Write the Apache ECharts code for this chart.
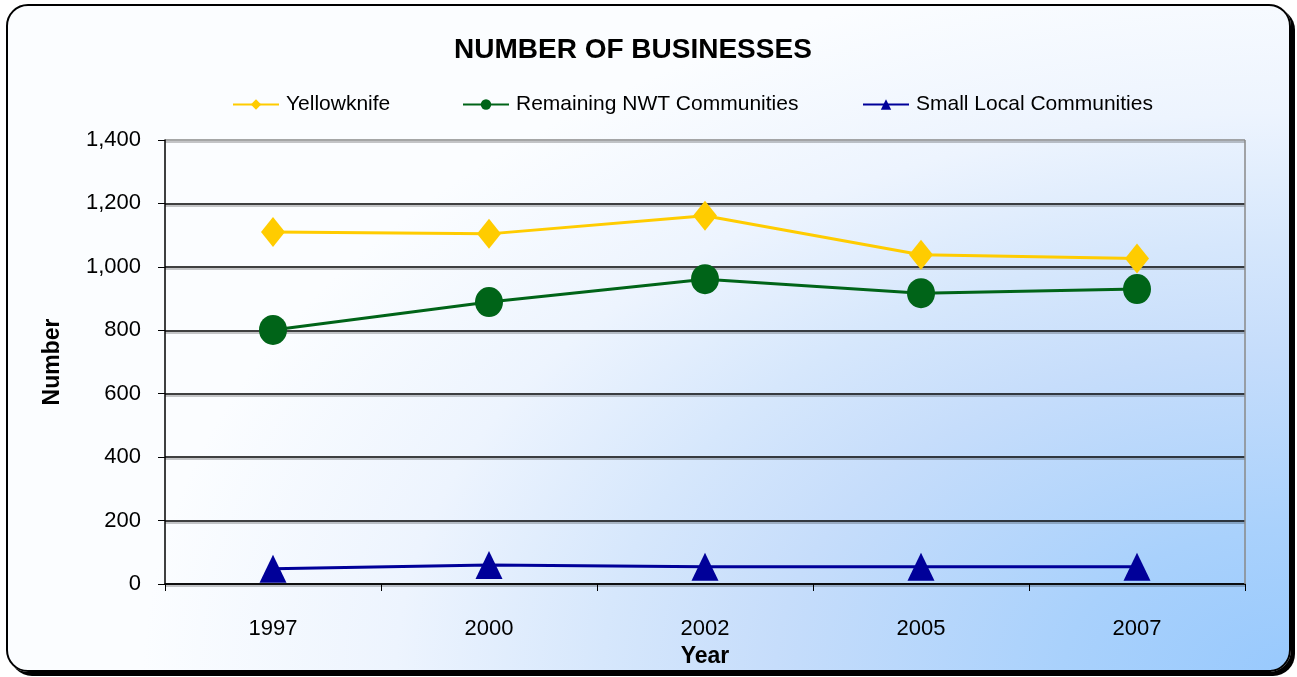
<!DOCTYPE html>
<html>
<head>
<meta charset="utf-8">
<script src="https://cdn.jsdelivr.net/npm/echarts@6/dist/echarts.min.js"></script>
<style>
html, body { margin: 0; padding: 0; background: #fff; }
#wrap { position: relative; width: 1297px; height: 677px; }
#frame {
    position: absolute; left: 6px; top: 4px; width: 1281px; height: 664px;
    border: 2px solid #000; border-radius: 22px;
    box-shadow: 4px 4px 0 #000;
    background: radial-gradient(ellipse 1150px 720px at 1285px 668px,
        #98c9fd 0%, #a9d1fc 20%, #c6ddfb 45%, #d6e7fc 60%, #edf4fe 78%, #fbfdff 100%);
}
#main { position: absolute; left: 0; top: 0; width: 1297px; height: 677px; }
</style>
</head>
<body>
<div id="wrap">
<div id="frame"></div>
<div id="main"></div>
</div>
<script>
var years = ['1997', '2000', '2002', '2005', '2007'];
var yellowknife = [1110, 1104, 1161, 1038, 1026];
var remainingNWT = [801, 889, 961, 917, 930];
var smallLocal = [48, 60, 54, 54, 54];
var seriesNames = ['Yellowknife', 'Remaining NWT Communities', 'Small Local Communities'];
var legendLeft = [232, 462, 862];

var myChart = echarts.init(document.getElementById('main'));
var font = 'Liberation Sans, Arial, sans-serif';

var legends = seriesNames.map(function (name, i) {
    return {
        top: 94,
        left: legendLeft[i],
        padding: 0,
        itemGap: 0,
        itemWidth: 46,
        itemHeight: 13,
        data: [name],
        textStyle: { fontFamily: font, fontSize: 21, color: '#000', padding: [0, 0, 0, 2] }
    };
});

option = {
    animation: false,
    title: {
        text: 'NUMBER OF BUSINESSES',
        left: 454,
        top: 36,
        padding: 0,
        textStyle: { fontFamily: font, fontSize: 28, fontWeight: 'bold', color: '#000' }
    },
    legend: legends,
    grid: { left: 165, right: 52, top: 140, bottom: 93 },
    xAxis: {
        type: 'category',
        data: years,
        name: 'Year',
        nameLocation: 'middle',
        nameGap: 57,
        nameTextStyle: { fontFamily: font, fontSize: 23, fontWeight: 'bold', color: '#000' },
        axisLine: { lineStyle: { color: '#000', width: 1.5 } },
        axisTick: { show: true, length: 7, lineStyle: { color: '#000' } },
        axisLabel: { fontFamily: font, fontSize: 22, color: '#000', margin: 34 }
    },
    yAxis: {
        type: 'value',
        min: 0,
        max: 1400,
        interval: 200,
        name: 'Number',
        nameLocation: 'middle',
        nameGap: 101,
        nameTextStyle: { fontFamily: font, fontSize: 23, fontWeight: 'bold', color: '#000' },
        axisLine: { show: true, lineStyle: { color: '#000', width: 1.5 } },
        axisTick: { show: true, length: 7, lineStyle: { color: '#000' } },
        axisLabel: {
            fontFamily: font, fontSize: 22, color: '#000', margin: 24,
            formatter: function (v) { return v.toLocaleString('en-US'); }
        },
        splitLine: {
            lineStyle: {
                color: ['#000', '#000', '#000', '#000', '#000', '#000', '#000', '#888'],
                width: 1.5,
                shadowColor: 'rgba(0,0,0,0.3)', shadowOffsetY: 2, shadowBlur: 0
            }
        }
    },
    series: [
        {
            name: seriesNames[0],
            type: 'line',
            data: yellowknife,
            symbol: 'diamond',
            symbolSize: [24, 30],
            color: '#ffcc00',
            lineStyle: { width: 3, color: '#ffcc00' },
            itemStyle: { color: '#ffcc00' }
        },
        {
            name: seriesNames[1],
            type: 'line',
            data: remainingNWT,
            symbol: 'circle',
            symbolSize: [28, 30],
            color: '#006418',
            lineStyle: { width: 3, color: '#006418' },
            itemStyle: { color: '#006418' }
        },
        {
            name: seriesNames[2],
            type: 'line',
            data: smallLocal,
            symbol: 'triangle',
            symbolSize: [27, 28],
            color: '#000099',
            lineStyle: { width: 3, color: '#000099' },
            itemStyle: { color: '#000099' }
        },
        {
            type: 'line',
            data: [],
            markLine: {
                silent: true,
                symbol: 'none',
                label: { show: false },
                lineStyle: { color: '#888', type: 'solid', width: 1.5 },
                data: [[{ x: 1245, y: 584 }, { x: 1245, y: 140 }]]
            }
        }
    ]
};

myChart.setOption(option);
</script>
</body>
</html>
